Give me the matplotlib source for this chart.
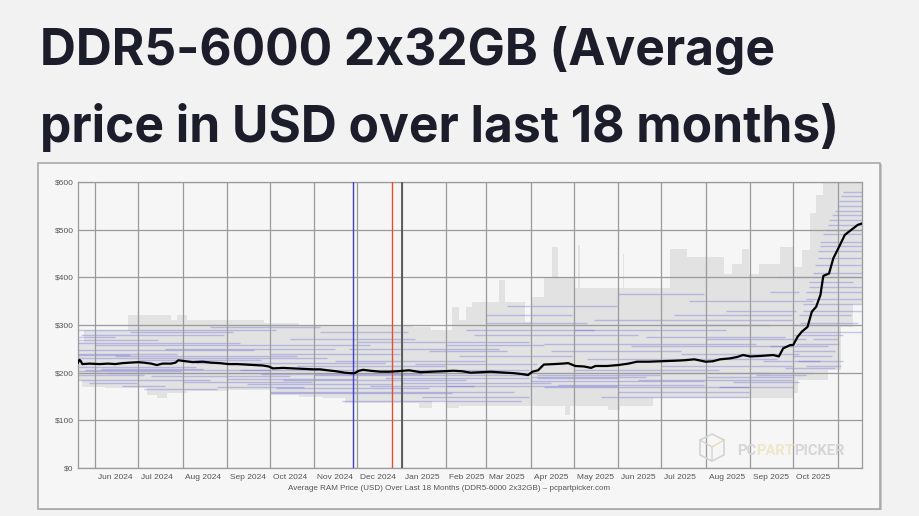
import pandas as pd
import matplotlib
matplotlib.use("Agg")
import matplotlib.pyplot as plt
import matplotlib.transforms as mtransforms
from matplotlib.patches import Rectangle, Polygon

# ---- data ----
x_start = "2024-05-20"
x_end = "2025-11-18"

month_starts = ["2024-06-01", "2024-07-01", "2024-08-01", "2024-09-01", "2024-10-01",
                "2024-11-01", "2024-12-01", "2025-01-01", "2025-02-01", "2025-03-01",
                "2025-04-01", "2025-05-01", "2025-06-01", "2025-07-01", "2025-08-01",
                "2025-09-01", "2025-10-01", "2025-11-01"]
month_labels = ["Jun 2024", "Jul 2024", "Aug 2024", "Sep 2024", "Oct 2024", "Nov 2024",
                "Dec 2024", "Jan 2025", "Feb 2025", "Mar 2025", "Apr 2025", "May 2025",
                "Jun 2025", "Jul 2025", "Aug 2025", "Sep 2025", "Oct 2025", ""]

y_ticks = [0, 100, 200, 300, 400, 500, 600]
y_labels = ["$0", "$100", "$200", "$300", "$400", "$500", "$600"]

# price range envelope (step functions, value holds until next date)
upper_dates = ["2024-05-20", "2024-05-24", "2024-06-24", "2024-07-24", "2024-07-28",
               "2024-08-04", "2024-09-27", "2024-10-21", "2025-01-09", "2025-01-21",
               "2025-02-05", "2025-02-10", "2025-02-15", "2025-02-19", "2025-03-10",
               "2025-03-14", "2025-03-28", "2025-04-01", "2025-04-10", "2025-04-16",
               "2025-04-20", "2025-05-01", "2025-05-04", "2025-05-05", "2025-06-04",
               "2025-06-05", "2025-07-07", "2025-07-19", "2025-08-14", "2025-08-19",
               "2025-08-26", "2025-08-31", "2025-09-07", "2025-09-22", "2025-10-01",
               "2025-10-07", "2025-10-13", "2025-10-17", "2025-10-22", x_end]
upper_vals = [265, 290, 320, 310, 320, 310, 305, 300, 295, 290,
              338, 310, 338, 349, 394, 349, 307, 359, 398, 464,
              398, 378, 468, 378, 448, 378, 459, 443, 408, 428,
              459, 408, 428, 464, 422, 457, 535, 573, 600, 600]

lower_dates = ["2024-05-20", "2024-05-23", "2024-06-08", "2024-07-07", "2024-07-14",
               "2024-07-21", "2024-08-04", "2024-09-01", "2024-10-01", "2024-10-21",
               "2024-11-07", "2024-11-22", "2025-01-13", "2025-01-22", "2025-02-01",
               "2025-02-10", "2025-04-25", "2025-04-28", "2025-05-25", "2025-06-02",
               "2025-06-25", "2025-10-01", "2025-10-04", "2025-10-25", "2025-11-03",
               "2025-11-12", x_end]
lower_vals = [185, 170, 167, 153, 146, 157, 162, 164, 153, 150,
              146, 136, 125, 140, 125, 130, 111, 130, 122, 130,
              146, 157, 185, 205, 296, 345, 345]

# individual listings: (first seen, last seen, price)
listings = [
    ("2024-05-20", "2024-10-05", 290), ("2024-05-22", "2024-08-30", 280),
    ("2024-05-20", "2024-07-15", 268), ("2024-06-01", "2024-12-10", 258),
    ("2024-05-20", "2024-09-20", 248), ("2024-05-20", "2024-07-28", 240),
    ("2024-06-15", "2024-10-20", 236), ("2024-05-20", "2024-11-10", 230),
    ("2024-07-01", "2024-09-25", 226), ("2024-05-20", "2024-08-10", 212),
    ("2024-05-25", "2024-10-01", 205), ("2024-06-10", "2024-09-30", 200),
    ("2024-05-20", "2024-07-05", 195), ("2024-07-10", "2024-10-15", 192),
    ("2024-05-20", "2024-08-20", 185), ("2024-05-28", "2024-06-30", 178),
    ("2024-08-01", "2024-10-30", 180), ("2024-06-20", "2024-07-20", 172),
    ("2024-09-01", "2024-11-30", 187), ("2024-10-01", "2025-03-20", 160),
    ("2024-10-05", "2025-01-20", 168), ("2024-09-15", "2024-12-25", 176),
    ("2024-10-10", "2025-02-15", 185), ("2024-11-01", "2025-03-31", 195),
    ("2024-10-20", "2025-01-31", 215), ("2024-11-15", "2025-02-28", 225),
    ("2024-10-01", "2024-12-31", 240), ("2024-11-25", "2025-03-10", 250),
    ("2024-10-15", "2025-01-10", 270), ("2024-12-01", "2025-03-31", 265),
    ("2024-11-05", "2025-01-05", 285), ("2025-01-01", "2025-04-15", 178),
    ("2025-01-15", "2025-03-31", 150), ("2025-02-01", "2025-05-31", 172),
    ("2025-02-10", "2025-04-30", 235), ("2025-02-20", "2025-06-15", 280),
    ("2025-03-01", "2025-05-10", 305), ("2025-04-01", "2025-07-31", 182),
    ("2025-04-05", "2025-06-30", 195), ("2025-04-10", "2025-08-31", 170),
    ("2025-04-15", "2025-07-15", 245), ("2025-04-10", "2025-09-05", 260),
    ("2025-05-01", "2025-08-15", 290), ("2025-05-15", "2025-09-30", 310),
    ("2025-06-01", "2025-09-15", 200), ("2025-06-15", "2025-09-30", 185),
    ("2025-06-01", "2025-08-31", 160), ("2025-07-01", "2025-09-30", 215),
    ("2025-07-15", "2025-10-05", 240), ("2025-08-01", "2025-10-10", 270),
    ("2025-08-15", "2025-10-03", 330), ("2025-09-01", "2025-10-15", 200),
    ("2025-09-10", "2025-10-20", 225), ("2025-09-15", "2025-10-25", 255),
    ("2025-09-20", "2025-10-15", 350), ("2025-10-01", "2025-11-05", 280),
    ("2025-10-01", "2025-11-01", 300), ("2025-10-05", "2025-11-10", 320),
    ("2025-10-08", "2025-11-18", 345), ("2025-10-10", "2025-11-18", 370),
    ("2025-10-12", "2025-11-12", 390), ("2025-10-15", "2025-11-18", 410),
    ("2025-10-18", "2025-11-18", 440), ("2025-10-20", "2025-11-18", 465),
    ("2025-10-22", "2025-11-18", 490), ("2025-10-25", "2025-11-18", 510),
    ("2025-10-28", "2025-11-18", 530), ("2025-11-01", "2025-11-18", 550),
    ("2025-11-03", "2025-11-18", 570), ("2025-10-01", "2025-10-28", 235),
    ("2025-10-03", "2025-11-02", 260), ("2025-09-25", "2025-10-30", 210),
    ("2024-05-20", "2024-06-25", 238), ("2024-06-05", "2024-08-15", 208),
    ("2024-05-20", "2024-09-10", 262), ("2024-07-20", "2024-11-15", 250),
    ("2024-08-10", "2024-12-20", 220), ("2024-05-20", "2024-06-15", 275),
    ("2024-06-25", "2024-09-05", 285), ("2024-08-20", "2024-11-05", 295),
    ("2024-09-10", "2024-12-31", 205), ("2024-07-05", "2024-08-25", 165),
    ("2024-08-25", "2024-10-25", 170), ("2024-05-20", "2024-07-31", 203),
    ("2024-09-25", "2025-01-15", 198), ("2024-10-01", "2025-02-05", 157),
    ("2024-11-20", "2025-03-25", 140), ("2024-12-10", "2025-02-20", 172),
    ("2024-12-20", "2025-03-31", 188), ("2025-01-05", "2025-03-31", 205),
    ("2025-01-10", "2025-04-05", 218), ("2025-01-20", "2025-03-15", 245),
    ("2025-02-01", "2025-04-10", 258), ("2025-02-15", "2025-05-15", 290),
    ("2025-03-01", "2025-04-30", 320), ("2025-03-15", "2025-05-31", 340),
    ("2025-04-01", "2025-06-20", 190), ("2025-04-05", "2025-05-31", 188),
    ("2025-04-20", "2025-07-31", 175), ("2025-05-01", "2025-08-10", 205),
    ("2025-05-10", "2025-09-20", 228), ("2025-05-20", "2025-08-31", 150),
    ("2025-06-10", "2025-09-30", 255), ("2025-06-20", "2025-09-25", 275),
    ("2025-07-01", "2025-09-15", 300), ("2025-07-10", "2025-09-30", 320),
    ("2025-07-20", "2025-09-20", 350), ("2025-06-01", "2025-07-31", 365),
    ("2025-08-01", "2025-09-30", 190), ("2025-08-10", "2025-10-01", 170),
    ("2025-08-20", "2025-10-05", 180), ("2025-09-05", "2025-10-10", 195),
    ("2025-09-15", "2025-10-05", 370), ("2025-09-20", "2025-10-12", 400),
    ("2025-10-01", "2025-10-30", 245), ("2025-10-04", "2025-11-05", 225),
    ("2025-10-06", "2025-11-18", 285), ("2025-10-06", "2025-11-15", 305),
    ("2025-10-08", "2025-11-18", 330), ("2025-10-10", "2025-11-18", 355),
    ("2025-10-12", "2025-11-18", 380), ("2025-10-14", "2025-11-18", 400),
    ("2025-10-16", "2025-11-18", 425), ("2025-10-18", "2025-11-18", 455),
    ("2025-10-20", "2025-11-18", 475), ("2025-10-24", "2025-11-18", 500),
    ("2025-10-26", "2025-11-18", 520), ("2025-10-30", "2025-11-18", 540),
    ("2025-11-02", "2025-11-18", 560), ("2025-11-05", "2025-11-18", 580),
    ("2025-10-10", "2025-11-03", 215), ("2025-10-15", "2025-11-01", 270),
]

# average price
avg_dates = ["2024-05-20", "2024-05-21", "2024-05-22", "2024-05-23", "2024-05-28",
             "2024-06-04", "2024-06-10", "2024-06-15", "2024-06-20", "2024-06-25",
             "2024-07-01", "2024-07-05", "2024-07-10", "2024-07-14", "2024-07-18",
             "2024-07-24", "2024-07-27", "2024-07-29", "2024-08-03", "2024-08-08",
             "2024-08-15", "2024-08-21", "2024-08-27", "2024-09-02", "2024-09-08",
             "2024-09-14", "2024-09-20", "2024-09-26", "2024-09-30", "2024-10-03",
             "2024-10-10", "2024-10-17", "2024-10-24", "2024-10-31", "2024-11-05",
             "2024-11-10", "2024-11-16", "2024-11-22", "2024-11-26", "2024-11-29",
             "2024-12-02", "2024-12-05", "2024-12-10", "2024-12-17", "2024-12-23",
             "2024-12-29", "2025-01-02", "2025-01-06", "2025-01-10", "2025-01-14",
             "2025-01-22", "2025-01-30", "2025-02-06", "2025-02-12", "2025-02-18",
             "2025-02-25", "2025-03-04", "2025-03-14", "2025-03-20", "2025-03-26",
             "2025-03-30", "2025-04-02", "2025-04-06", "2025-04-10", "2025-04-17",
             "2025-04-23", "2025-04-27", "2025-05-02", "2025-05-08", "2025-05-13",
             "2025-05-16", "2025-05-24", "2025-06-01", "2025-06-08", "2025-06-14",
             "2025-06-22", "2025-07-01", "2025-07-10", "2025-07-17", "2025-07-24",
             "2025-08-01", "2025-08-06", "2025-08-11", "2025-08-18", "2025-08-23",
             "2025-08-27", "2025-09-01", "2025-09-08", "2025-09-17", "2025-09-21",
             "2025-09-24", "2025-09-29", "2025-10-01", "2025-10-04", "2025-10-07",
             "2025-10-11", "2025-10-14", "2025-10-17", "2025-10-20", "2025-10-22",
             "2025-10-26", "2025-10-29", "2025-11-02", "2025-11-06", "2025-11-09",
             "2025-11-12", "2025-11-15", "2025-11-18"]
avg_prices = [221, 227, 224, 218, 219, 218, 219, 218, 220, 221,
              222, 221, 219, 216, 219, 219, 221, 226, 224, 222,
              223, 221, 220, 218, 218, 217, 216, 215, 213, 209,
              210, 209, 208, 207, 207, 205, 203, 200, 199, 199,
              204, 206, 204, 202, 202, 203, 204, 205, 203, 201,
              202, 203, 204, 203, 200, 201, 202, 200, 199, 197,
              195, 202, 205, 217, 218, 219, 220, 214, 213, 210,
              214, 214, 216, 219, 223, 223, 224, 225, 226, 228,
              223, 224, 228, 230, 233, 237, 234, 235, 237, 234,
              251, 258, 258, 275, 286, 296, 328, 338, 363, 403,
              408, 440, 464, 489, 496, 503, 510, 513]

black_friday = "2024-11-28"
christmas = "2024-12-25"
new_year = "2025-01-01"

# ---- figure ----
W, H = 919, 516
fig = plt.figure(figsize=(W / 100, H / 100), dpi=100)
fig.patch.set_facecolor("#f2f2f3")

# panel with a soft shadow on the right/bottom
fig.patches.append(Rectangle((39.5 / W, 6 / H), 842 / W, 346 / H,
                             transform=fig.transFigure, facecolor="#c8c8c8",
                             edgecolor="none", zorder=-6))
fig.patches.append(Rectangle((38 / W, 7 / H), 842 / W, 346 / H,
                             transform=fig.transFigure, facecolor="#f6f6f6",
                             edgecolor="#a2a2a2", lw=1.1, zorder=-5))

title_kw = dict(fontsize=35.8, fontweight="bold", color="#1c1d2b",
                family=["Inter", "DejaVu Sans"], va="baseline", ha="left")
fig.text(40 / W, 1 - 65 / H, "DDR5-6000 2x32GB (Average", **title_kw)
fig.text(40 / W, 1 - 142 / H, "price in USD over last 18 months)", **title_kw)

ax = fig.add_axes([78 / W, 48 / H, 784 / W, 286 / H])
ax.set_facecolor("#f6f6f6")

# range band
up = pd.Series(upper_vals, index=pd.to_datetime(upper_dates))
lo = pd.Series(lower_vals, index=pd.to_datetime(lower_dates))
idx = up.index.union(lo.index)
up = up.reindex(idx).ffill()
lo = lo.reindex(idx).ffill()
ax.fill_between(idx, lo.values, up.values, step="post", color="#e2e2e3", lw=0, zorder=1)

# listings
for s, e, p in listings:
    ax.plot(pd.to_datetime([s, e]), [p, p], color="#4040d0", alpha=0.27, lw=1.0,
            solid_capstyle="butt", zorder=2)

# grid
for m in month_starts:
    ax.axvline(pd.Timestamp(m), color="#9a9a9a", lw=0.9, zorder=3)
for yv in y_ticks:
    ax.axhline(yv, color="#9a9a9a", lw=0.9, zorder=3)

ax.axvline(pd.Timestamp(black_friday), color="#4040c8", lw=1.0, zorder=4)
ax.axvline(pd.Timestamp(christmas), color="#e0502f", lw=1.0, zorder=4)
ax.axvline(pd.Timestamp(new_year), color="#555555", lw=1.3, zorder=4)

ax.plot(pd.to_datetime(avg_dates), avg_prices, color="black", lw=1.6, zorder=5)

ax.set_xlim(pd.Timestamp(x_start), pd.Timestamp(x_end))
ax.set_ylim(0, 600)
ax.set_yticks(y_ticks)
ax.set_yticklabels(y_labels)
ax.set_xticks(pd.to_datetime(month_starts))
ax.set_xticklabels(month_labels)
ax.tick_params(length=0, labelsize=6.0, colors="#555555", pad=3)
ax.tick_params(axis="x", pad=4)
shift = mtransforms.ScaledTranslation(2 / 72, 0, fig.dpi_scale_trans)
for lab in ax.get_xticklabels():
    lab.set_ha("left")
    lab.set_transform(lab.get_transform() + shift)
for lab in ax.get_xticklabels() + ax.get_yticklabels():
    lab.set_family(["Liberation Sans", "DejaVu Sans"])
for sp in ax.spines.values():
    sp.set_color("#9a9a9a")
    sp.set_linewidth(0.9)

# caption
fig.text(449 / W, 1 - 490 / H,
         "Average RAM Price (USD) Over Last 18 Months (DDR5-6000 2x32GB) \u2013 pcpartpicker.com",
         ha="center", va="baseline", fontsize=5.8, color="#555555",
         family=["Liberation Sans", "DejaVu Sans"])

# watermark
cube_px = [(700, 440), (712, 434), (724, 440), (724, 455), (712, 461), (700, 455)]
cube = Polygon([(px / W, 1 - py / H) for px, py in cube_px], closed=True,
               transform=fig.transFigure, fill=False, edgecolor="#d4d4d4", lw=1.2,
               zorder=10)
fig.patches.append(cube)
fig.lines.append(plt.Line2D([712 / W, 712 / W, 700 / W], [1 - 461 / H, 1 - 447 / H, 1 - 440 / H],
                            transform=fig.transFigure, color="#d4d4d4", lw=1.0, zorder=10))
fig.lines.append(plt.Line2D([712 / W, 724 / W], [1 - 447 / H, 1 - 440 / H],
                            transform=fig.transFigure, color="#e8dcae", lw=1.0, zorder=10))
wm_y = 1 - 455 / H
wm_kw = dict(fontsize=10.6, fontweight="bold", family=["Roboto", "DejaVu Sans"],
             va="baseline", ha="left", zorder=10)
t1 = fig.text(737 / W, wm_y, "PC", color="#d6d6d6", **wm_kw)
fig.canvas.draw()
r = fig.canvas.get_renderer()
bb = t1.get_window_extent(r)
t2 = fig.text(bb.x1 / W, wm_y, "PART", color="#efe6c8", **wm_kw)
bb = t2.get_window_extent(r)
fig.text(bb.x1 / W, wm_y, "PICKER", color="#d6d6d6", **wm_kw)

fig.savefig("out.png", dpi=100, facecolor=fig.get_facecolor())
